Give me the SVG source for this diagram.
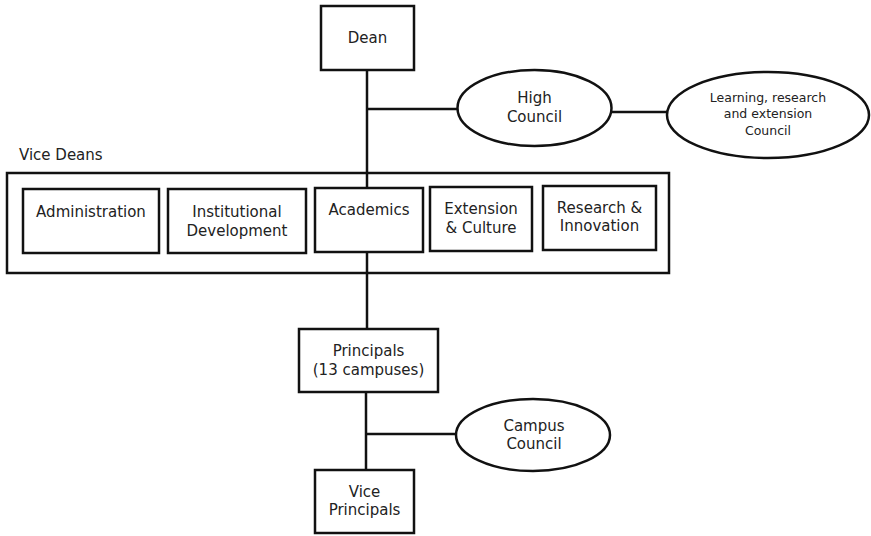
<svg xmlns="http://www.w3.org/2000/svg" width="871" height="536" viewBox="0 0 871 536">
  <style>
    .box { fill: #fff; stroke: #111; stroke-width: 2.5; }
    .frame { fill: none; stroke: #111; stroke-width: 2.5; }
    .ell { fill: #fff; stroke: #111; stroke-width: 2.5; }
    .link { stroke: #111; stroke-width: 2.5; fill: none; }
    text { font-family: "DejaVu Sans", "Liberation Sans", sans-serif; font-size: 15px; fill: #222; text-anchor: middle; dominant-baseline: central; }
    .small { font-size: 12.5px; }
    .label { text-anchor: start; }
  </style>

  <!-- connectors -->
  <g id="connectors">
    <line class="link" x1="367" y1="70" x2="367" y2="188"/>
    <line class="link" x1="367" y1="109" x2="458" y2="109"/>
    <line class="link" x1="611" y1="112" x2="668" y2="112"/>
    <line class="link" x1="367" y1="252" x2="367" y2="329"/>
    <line class="link" x1="366" y1="392" x2="366" y2="470"/>
    <line class="link" x1="366" y1="434" x2="457" y2="434"/>
  </g>

  <g id="dean">
    <rect class="box" x="321" y="6" width="93" height="64"/>
    <text x="367.5" y="38">Dean</text>
  </g>

  <g id="high-council">
    <ellipse class="ell" cx="534.5" cy="108" rx="77" ry="38"/>
    <text x="534.5" y="98">High</text>
    <text x="534.5" y="117">Council</text>
  </g>

  <g id="lre-council">
    <ellipse class="ell" cx="768" cy="115" rx="101" ry="43"/>
    <text class="small" x="768" y="97">Learning, research</text>
    <text class="small" x="768" y="113">and extension</text>
    <text class="small" x="768" y="130">Council</text>
  </g>

  <g id="vice-deans">
    <text class="label" x="19" y="155">Vice Deans</text>
    <rect class="frame" x="7" y="173" width="662" height="100"/>
  </g>

  <g id="administration">
    <rect class="box" x="23" y="189" width="136" height="64"/>
    <text x="91" y="212">Administration</text>
  </g>

  <g id="institutional-development">
    <rect class="box" x="168" y="189" width="138" height="64"/>
    <text x="237" y="212">Institutional</text>
    <text x="237" y="231">Development</text>
  </g>

  <g id="academics">
    <rect class="box" x="315" y="188" width="108" height="64"/>
    <text x="369" y="210">Academics</text>
  </g>

  <g id="extension-culture">
    <rect class="box" x="430" y="187" width="102" height="64"/>
    <text x="481" y="209">Extension</text>
    <text x="481" y="228">&amp; Culture</text>
  </g>

  <g id="research-innovation">
    <rect class="box" x="543" y="186" width="113" height="64"/>
    <text x="599.5" y="208">Research &amp;</text>
    <text x="599.5" y="226">Innovation</text>
  </g>

  <g id="principals">
    <rect class="box" x="299" y="329" width="139" height="63"/>
    <text x="368.5" y="351">Principals</text>
    <text x="368.5" y="370">(13 campuses)</text>
  </g>

  <g id="campus-council">
    <ellipse class="ell" cx="533" cy="435" rx="77" ry="36"/>
    <text x="534" y="426">Campus</text>
    <text x="534" y="444">Council</text>
  </g>

  <g id="vice-principals">
    <rect class="box" x="315" y="470" width="99" height="63"/>
    <text x="364.5" y="492">Vice</text>
    <text x="364.5" y="510">Principals</text>
  </g>
</svg>
